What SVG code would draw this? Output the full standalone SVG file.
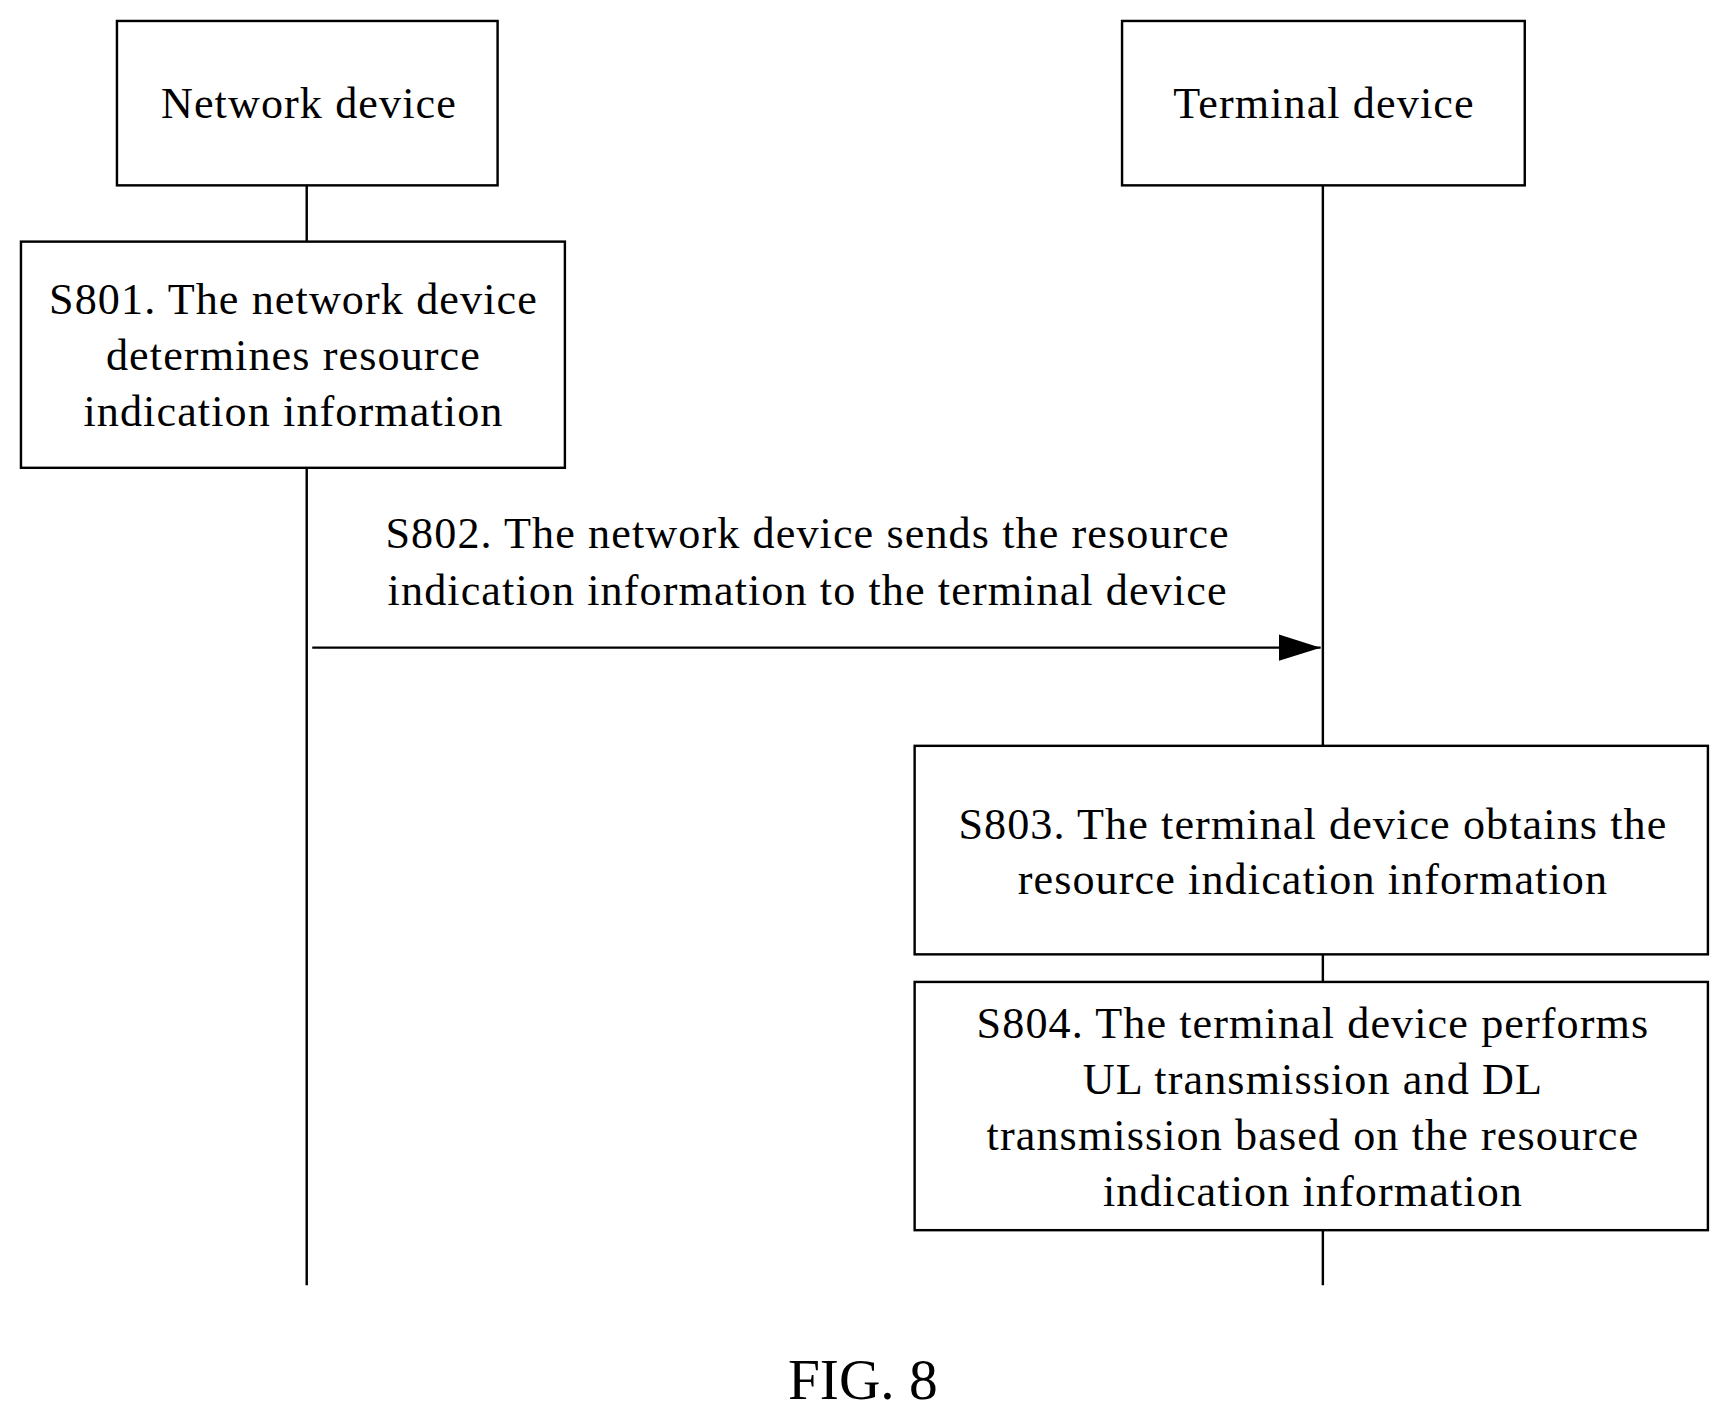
<svg xmlns="http://www.w3.org/2000/svg" width="1730" height="1422" viewBox="0 0 1730 1422">
<style>
.b{fill:#fff;stroke:#000;stroke-width:2.2}
.l{stroke:#000;stroke-width:2.2;fill:none}
text{font-family:"Liberation Serif","Times New Roman",serif;font-size:40px;letter-spacing:1px;text-anchor:middle;fill:#000}
</style>
<defs><marker id="a2" markerWidth="38" markerHeight="24" refX="38" refY="12" orient="auto" markerUnits="userSpaceOnUse"><path d="M0,0L38,12L0,24z" fill="#000"/></marker></defs>
<rect width="1730" height="1422" fill="#fff"/>
<g transform="scale(1.1033)">
<g id="connectors">
<path class="l" d="M278,168V219M278,424V1165M1199,168V676M1199,865V890M1199,1115V1165"/>
<path class="l" d="M283,587H1197" marker-end="url(#a2)"/>
<text x="732" y="497">S802. The network device sends the resource</text>
<text x="732" y="548">indication information to the terminal device</text>
</g>
<g id="network"><rect class="b" x="106" y="19" width="345" height="149"/><text x="280" y="107">Network device</text></g>
<g id="terminal"><rect class="b" x="1017" y="19" width="365" height="149"/><text x="1200" y="107">Terminal device</text></g>
<g id="s801"><rect class="b" x="19" y="219" width="493" height="205"/><text x="266" y="285">S801. The network device</text><text x="266" y="335">determines resource</text><text x="266" y="386">indication information</text></g>
<g id="s803"><rect class="b" x="829" y="676" width="719" height="189"/><text x="1190" y="760">S803. The terminal device obtains the</text><text x="1190" y="810">resource indication information</text></g>
<g id="s804"><rect class="b" x="829" y="890" width="719" height="225"/><text x="1190" y="941">S804. The terminal device performs</text><text x="1190" y="992">UL transmission and DL</text><text x="1190" y="1042">transmission based on the resource</text><text x="1190" y="1093">indication information</text></g>
<text x="782" y="1268" style="font-size:52px;letter-spacing:0">FIG. 8</text>
</g>
</svg>
